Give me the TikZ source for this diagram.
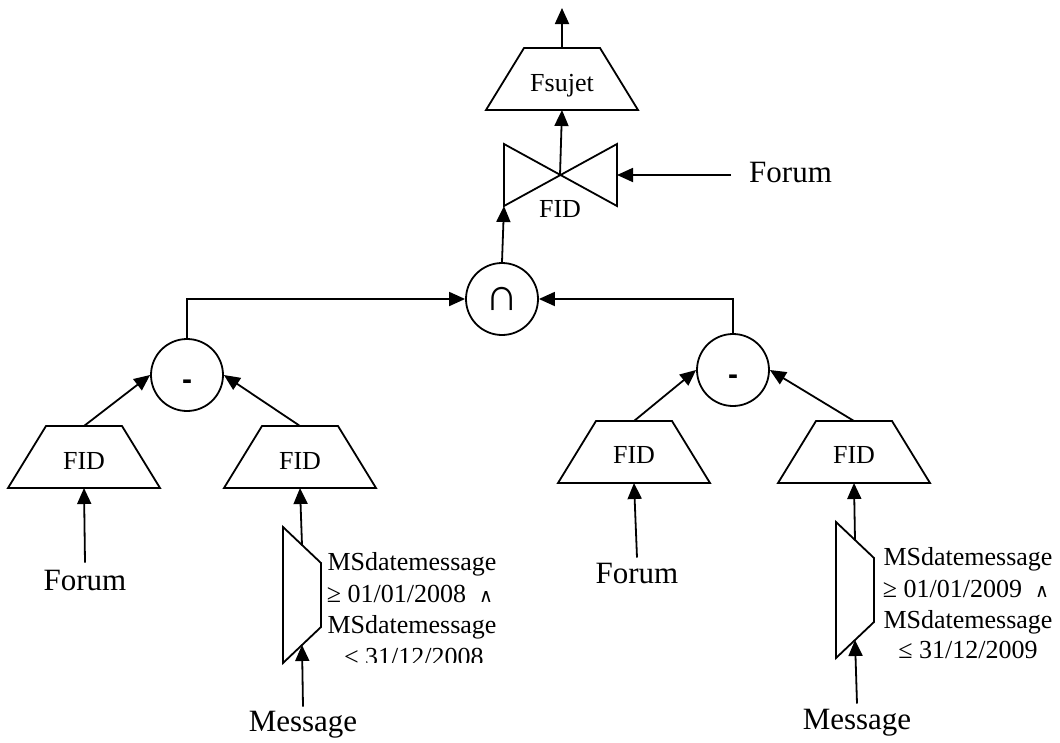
\documentclass[tikz,border=0pt]{standalone}
\usepackage{fontspec}
\setmainfont{Liberation Serif}
\newfontfamily\dejavu{DejaVu Sans}
\newfontfamily\lsans{Liberation Sans}
\usetikzlibrary{arrows.meta}

\tikzset{
  x=1pt, y=-1pt,
  shp/.style={draw, line width=1.8pt, line join=miter},
  conn/.style={line width=1.8pt, -{Triangle[length=16pt,width=14pt]}},
  opcircle/.style={draw, line width=1.8pt, circle, minimum size=72pt, inner sep=0pt},
  lbl/.style={inner sep=0pt, anchor=base, font=\fontsize{26}{31}\selectfont},
  biglbl/.style={inner sep=0pt, anchor=base, font=\fontsize{31}{37}\selectfont},
  % projection box (trapezium), origin at the middle of its top edge
  trap/.pic={
    \draw[shp] (-38,0) -- (38,0) -- (76,62) -- (-76,62) -- cycle;
    \coordinate (-t) at (0,0);
    \coordinate (-b) at (0,62);
  },
  % selection box, origin at its upper left corner
  selbox/.pic={
    \draw[shp] (0,0) -- (38,36) -- (38,100) -- (0,136) -- cycle;
    \coordinate (-out) at (19,18);
    \coordinate (-in) at (19,118);
  },
  % join symbol (bow tie), origin at its centre
  bowtie/.pic={
    \draw[shp] (-56,-31) -- (57,31) -- (57,-31) -- (-56,31) -- cycle;
    \coordinate (-c) at (0,0);
    \coordinate (-e) at (57,0);
    \coordinate (-bl) at (-56,31);
  },
}

\newcommand{\wedgesym}{{\dejavu\fontsize{19}{19}\selectfont ∧}}
\newcommand{\minussym}{{\lsans\bfseries\fontsize{30}{30}\selectfont\raisebox{-14pt}[0pt][0pt]{-}}}

\begin{document}
\begin{tikzpicture}
\useasboundingbox (0,0) rectangle (1060,742);

% top of the tree
\pic (fs) at (562,48) {trap};
\node[lbl] (fsl) at (562,91) {Fsujet};
\coordinate (topout) at (562,8);
\pic (bt) at (560,175) {bowtie};
\node[lbl] (btl) at (560,217) {FID};
\node[biglbl, anchor=base west] (forumtop) at (749,182) {Forum};
\coordinate (forumtail) at (731,175);

% operators
\node[opcircle] (cap) at (502,299) {\fontsize{46}{46}\selectfont ∩};
\node[opcircle] (m1) at (187,375) {\minussym};
\node[opcircle] (m2) at (733,370) {\minussym};

% left branch
\pic (f1) at (84,426) {trap};
\node[lbl] (f1l) at (84,469) {FID};
\pic (f2) at (300,426) {trap};
\node[lbl] (f2l) at (300,469) {FID};
\node[biglbl] (forum1) at (85,590) {Forum};
\pic (s1) at (283,527) {selbox};
\node[biglbl] (msg1) at (303,731) {Message};
\node[lbl] (c1a) at (412,570) {MSdatemessage};
\node[lbl] (c1b) at (410,602) {≥ 01/01/2008~~\wedgesym};
\node[lbl] (c1c) at (412,633) {MSdatemessage};
\begin{scope}
  \clip (0,0) rectangle (1060,662);
  \node[lbl] (c1d) at (414,665) {≤ 31/12/2008};
\end{scope}

% right branch
\pic (f3) at (634,421) {trap};
\node[lbl] (f3l) at (634,463) {FID};
\pic (f4) at (854,421) {trap};
\node[lbl] (f4l) at (854,463) {FID};
\node[biglbl] (forum2) at (637,583) {Forum};
\pic (s2) at (836,522) {selbox};
\node[biglbl] (msg2) at (857,729) {Message};
\node[lbl] (c2a) at (968,565) {MSdatemessage};
\node[lbl] (c2b) at (966,597) {≥ 01/01/2009~~\wedgesym};
\node[lbl] (c2c) at (968,628) {MSdatemessage};
\node[lbl] (c2d) at (968,658) {≤ 31/12/2009};

% connectors
\draw[conn] (fs-t) -- (topout);
\draw[conn] (bt-c) -- (fs-b);
\draw[conn] (forumtail) -- (bt-e);
\draw[conn] (cap.north) -- (bt-bl);
\draw[conn] (m1.north) |- (cap.west);
\draw[conn] (m2.north) |- (cap.east);
\draw[conn] (f1-t) -- (m1.west);
\draw[conn] (f2-t) -- (m1.east);
\draw[conn] (f3-t) -- (m2.west);
\draw[conn] (f4-t) -- (m2.east);
\draw[conn] ([yshift=7pt]forum1.north) -- (f1-b);
\draw[conn] ([yshift=5pt]forum2.north) -- (f3-b);
\draw[conn] (s1-out) -- (f2-b);
\draw[conn] (s2-out) -- (f4-b);
\draw[conn] ([yshift=4pt]msg1.north) -- (s1-in);
\draw[conn] ([yshift=5pt]msg2.north) -- (s2-in);
\end{tikzpicture}
\end{document}
